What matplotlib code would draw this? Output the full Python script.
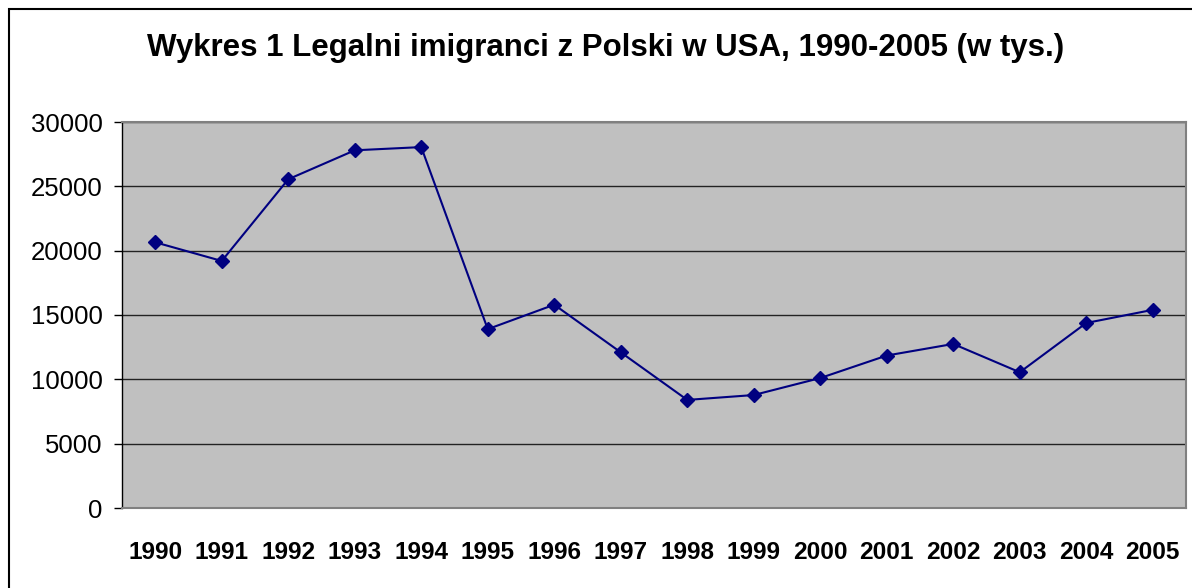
import matplotlib.pyplot as plt
from matplotlib.patches import Rectangle

years = ['1990', '1991', '1992', '1993', '1994', '1995', '1996', '1997',
         '1998', '1999', '2000', '2001', '2002', '2003', '2004', '2005']
immigrants = [20650, 19200, 25550, 27800, 28050, 13900, 15800, 12100,
              8400, 8780, 10100, 11850, 12750, 10550, 14380, 15400]
yticks = [0, 5000, 10000, 15000, 20000, 25000, 30000]

plt.rcParams['font.family'] = ['Liberation Sans', 'DejaVu Sans']

fig = plt.figure(figsize=(11.92, 5.88), dpi=100)
ax = fig.add_axes([122 / 1192, 1 - 508 / 588, (1186 - 122) / 1192, (508 - 122) / 588])
ax.set_facecolor('#c0c0c0')

x = range(len(years))
ax.plot(x, immigrants, color='#000080', lw=1.5, marker='D', ms=7, mfc='#000080', mec='#000080')

ax.set_xlim(-0.5, len(years) - 0.5)
ax.set_ylim(0, 30000)
ax.set_yticks(yticks)
ax.set_yticklabels([str(v) for v in yticks], fontsize=18.5)
ax.set_xticks(list(x))
ax.set_xticklabels(years, fontsize=17.6, fontweight='bold')
ax.tick_params(axis='x', length=0, pad=24)
ax.tick_params(axis='y', length=6, width=1, direction='out', pad=8)
ax.yaxis.grid(True, color='#222222', lw=1)
ax.set_axisbelow(True)
for side in ['top', 'right', 'bottom']:
    ax.spines[side].set_color('#808080')
    ax.spines[side].set_linewidth(1.5)
ax.spines['left'].set_color('black')
ax.spines['left'].set_linewidth(1)

fig.text(606 / 1192, 1 - 48 / 588, 'Wykres 1 Legalni imigranci z Polski w USA, 1990-2005 (w tys.)',
         ha='center', va='center', fontsize=22.5, fontweight='bold')

# outer chart frame (cut off at right and bottom)
fig.patches.append(Rectangle((9 / 1192, -0.1), 1.2, (588 - 9) / 588 + 0.1,
                             transform=fig.transFigure, fill=False, ec='black', lw=1.5))

fig.savefig('out.png', dpi=100)
